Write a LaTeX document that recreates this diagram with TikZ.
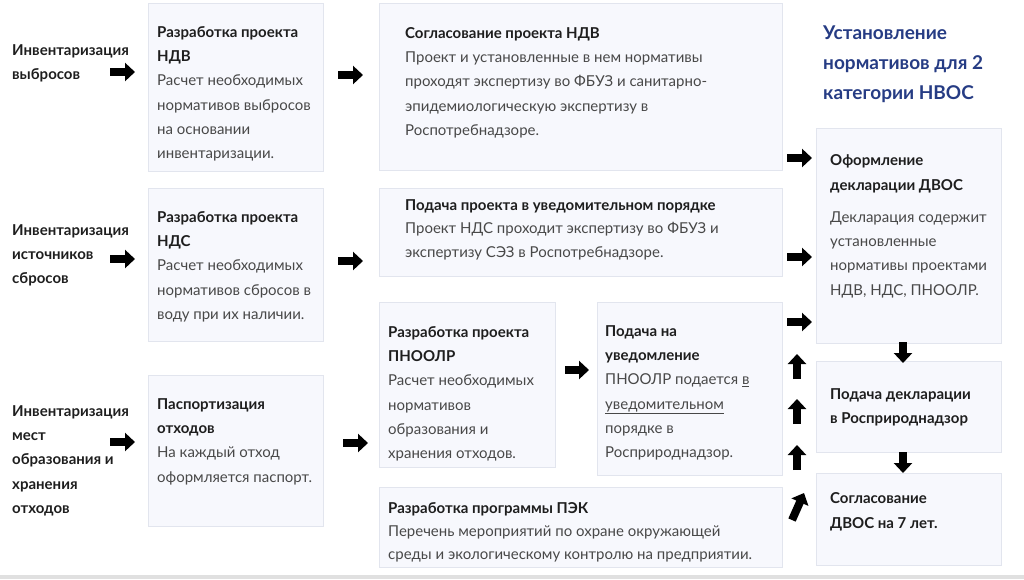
\documentclass[tikz,border=0pt]{standalone}
\usepackage{fontspec}
\setmainfont{Lato}
\usetikzlibrary{arrows.meta}
\definecolor{boxfill}{RGB}{247,248,253}
\definecolor{boxline}{RGB}{226,229,238}
\definecolor{headblue}{RGB}{38,60,132}
\definecolor{bodygray}{RGB}{72,72,72}
\definecolor{titledark}{RGB}{30,30,30}
\newcommand{\hd}{\color{titledark}\bfseries}
% first-line strut, the node top lies 12pt above the first baseline
\newcommand{\fs}{\rule{0pt}{12pt}}
\begin{document}
\begin{tikzpicture}
    [x=1pt,y=-1pt,
     box/.style={draw=boxline,fill=boxfill,anchor=north west,inner sep=0pt},
     txt/.style={anchor=north west,align=left,inner sep=0pt,text=bodygray,
       font=\fontsize{15}{24.3}\selectfont},
     lbl/.style={anchor=north west,align=left,inner sep=0pt,text=titledark,
       font=\bfseries\fontsize{15}{24.3}\selectfont},
     blk/.style={-{Triangle[length=10pt,width=18pt]},line width=8pt}]
    \useasboundingbox (0,0) rectangle (1024,579);
    \fill[black!12] (0,575) rectangle (1024,579);

    \foreach \n/\x/\y/\w/\h in {ndv/148/3/175/168, sogl/379/3/403/167,
        nds/148/188/175/153, podnds/379/188/403/88, pnoolr/379/302/176/165,
        uved/597/302/185/173, pasp/148/375/175/151, pek/379/487/403/80,
        oform/816/128/185/215, podd/816/361/185/91, sogd/816/473/185/92}
      \node[box,minimum width=\w,minimum height=\h] (\n) at (\x,\y) {};

    % title
    \node[anchor=north west,align=left,inner sep=0pt,text=headblue,
      font=\bfseries\fontsize{19}{30}\selectfont] (hdr) at (823,23)
      {\rule{0pt}{16pt}Установление\\нормативов для 2\\категории НВОС};

    % inventories
    \node[lbl] (inv1) at (12,43) {\fs Инвентаризация\\выбросов};
    \node[lbl] (inv2) at (12,223) {\fs Инвентаризация\\источников\\сбросов};
    \node[lbl] (inv3) at (12,404) {\fs Инвентаризация\\мест\\образования и\\хранения\\отходов};

    % boxes text
    \node[txt] (tndv) at ([shift={(9,22)}]ndv.north west)
      {{\hd\fs Разработка проекта}\\{\hd НДВ}\\Расчет необходимых\\нормативов выбросов\\на основании\\инвентаризации.};
    \node[txt] (tsogl) at ([shift={(26,23)}]sogl.north west)
      {{\hd\fs Согласование проекта НДВ}\\Проект и установленные в нем нормативы\\проходят экспертизу во ФБУЗ и санитарно-\\эпидемиологическую экспертизу в\\Роспотребнадзоре.};
    \node[txt] (tnds) at ([shift={(9,22)}]nds.north west)
      {{\hd\fs Разработка проекта}\\{\hd НДС}\\Расчет необходимых\\нормативов сбросов в\\воду при их наличии.};
    \node[txt,font=\fontsize{15}{23.5}\selectfont] (tpodnds) at ([shift={(26,10)}]podnds.north west)
      {{\hd\fs Подача проекта в уведомительном порядке}\\Проект НДС проходит экспертизу во ФБУЗ и\\экспертизу СЭЗ в Роспотребнадзоре.};
    \node[txt] (tpnoolr) at ([shift={(9,23)}]pnoolr.north west)
      {{\hd\fs Разработка проекта}\\{\hd ПНООЛР}\\Расчет необходимых\\нормативов\\образования и\\хранения отходов.};
    \node[txt] (tuved) at ([shift={(8,22)}]uved.north west)
      {{\hd\fs Подача на}\\{\hd уведомление}\\ПНООЛР подается \underline{в}\\\underline{уведомительном}\\порядке в\\Росприроднадзор.};
    \node[txt] (tpasp) at ([shift={(9,22)}]pasp.north west)
      {{\hd\fs Паспортизация}\\{\hd отходов}\\На каждый отход\\оформляется паспорт.};
    \node[txt,font=\fontsize{15}{23}\selectfont] (tpek) at ([shift={(9,14)}]pek.north west)
      {{\hd\fs Разработка программы ПЭК}\\Перечень мероприятий по охране окружающей\\среды и экологическому контролю на предприятии.};
    \node[txt,font=\fontsize{15}{25}\selectfont] (toform) at ([shift={(14,25)}]oform.north west)
      {{\hd\fs Оформление}\\{\hd декларации ДВОС}};
    \node[txt] (toformb) at ([shift={(14,82)}]oform.north west)
      {\fs Декларация содержит\\установленные\\нормативы проектами\\НДВ, НДС, ПНООЛР.};
    \node[txt] (tpodd) at ([shift={(14,26)}]podd.north west)
      {{\hd\fs Подача декларации}\\{\hd в Росприроднадзор}};
    \node[txt,font=\fontsize{15}{25.5}\selectfont] (tsogd) at ([shift={(14,18)}]sogd.north west)
      {{\hd\fs Согласование}\\{\hd ДВОС на 7 лет.}};

    % block arrows
    \foreach \n/\x/\y/\dx/\dy in {a1/110/72/25/0, a2/110/259/25/0, a3/110/442/25/0,
        b1/338/75/25/0, b2/338/261/25/0, b3/343/443/25/0, c1/565/370/24/0,
        d1/787/158/25/0, d2/787/257/25/0, d3/787/322/25/0,
        e1/797/379/0/-25, e2/797/424/0/-25, e3/797/470/0/-25, e4/792/520/12/-27,
        f1/903/342/0/21, f2/903/452/0/21}
    {
      \coordinate (\n s) at (\x,\y);
      \coordinate (\n t) at (\x+\dx,\y+\dy);
      \draw[blk] (\n s) -- (\n t);
    }
  \end{tikzpicture}
\end{document}
